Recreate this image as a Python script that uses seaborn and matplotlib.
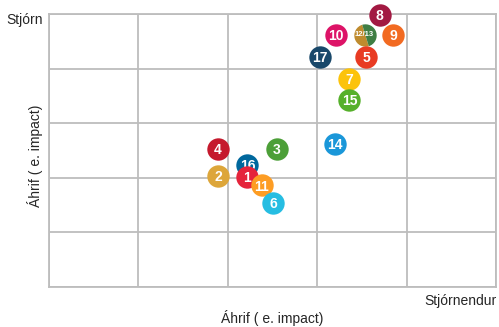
import matplotlib
matplotlib.use("Agg")
import matplotlib.pyplot as plt
from matplotlib.markers import MarkerStyle
from matplotlib.transforms import Affine2D
import seaborn as sns

# Sustainable development goals placed by impact (x) and governance weight (y)
labels = ["8", "10", "9", "17", "5", "7", "15", "14", "4", "3", "16", "2", "1", "11", "6"]
x_vals = [3.70, 3.21, 3.85, 3.03, 3.55, 3.36, 3.36, 3.20, 1.89, 2.55, 2.22, 1.89, 2.22, 2.38, 2.51]
y_vals = [4.99, 4.62, 4.62, 4.22, 4.22, 3.81, 3.42, 2.62, 2.53, 2.53, 2.23, 2.03, 2.02, 1.86, 1.54]

# Goals 12 and 13 share one split marker
shared_label = "12/13"
shared_x = 3.53
shared_y = 4.62

sdg_colors = {
    "1": "#E5243B", "2": "#DDA63A", "3": "#4C9F38", "4": "#C5192D",
    "5": "#E83B23", "6": "#26BDE2", "7": "#FCC30B", "8": "#A21942",
    "9": "#F26A21", "10": "#DD1367", "11": "#FD9D24", "12": "#BF8B2E",
    "13": "#3F7E44", "14": "#1A97D9", "15": "#56B02B", "16": "#00689D",
    "17": "#19486A",
}

sns.set_style("white")
plt.rcParams["font.family"] = ["Liberation Sans", "DejaVu Sans"]

fig = plt.figure(figsize=(4.99, 3.27), dpi=100)
ax = fig.add_axes([0.0982, 0.1223, 0.8958, 0.8349])

ax.set_xlim(0, 5)
ax.set_ylim(0, 5)
ax.set_xticks([0, 1, 2, 3, 4, 5])
ax.set_yticks([0, 1, 2, 3, 4, 5])
ax.tick_params(length=0, labelbottom=False, labelleft=False)
ax.grid(True, color="#bdbdbd", linewidth=1.3)
for sp in ax.spines.values():
    sp.set_color("#bdbdbd")
    sp.set_linewidth(1.3)
ax.set_axisbelow(True)

marker_size = 260

# split marker for 12/13
rot = Affine2D().rotate_deg(17)
ax.scatter([shared_x], [shared_y], s=marker_size, color=sdg_colors["12"],
           marker=MarkerStyle("o", fillstyle="left", transform=rot),
           linewidths=0, zorder=3, clip_on=False)
ax.scatter([shared_x], [shared_y], s=marker_size, color=sdg_colors["13"],
           marker=MarkerStyle("o", fillstyle="right", transform=rot),
           linewidths=0, zorder=3, clip_on=False)
ax.text(shared_x, shared_y, shared_label, color="white", fontsize=5.5,
        fontweight="bold", ha="center", va="center", zorder=4)

for i, (lab, xv, yv) in enumerate(zip(labels, x_vals, y_vals)):
    z = 5 + 2 * i
    sns.scatterplot(x=[xv], y=[yv], color=sdg_colors[lab], s=marker_size,
                    linewidth=0, ax=ax, zorder=z, clip_on=False, legend=False)
    ax.text(xv, yv - 0.02, lab, color="white", fontsize=10, fontweight="bold",
            ha="center", va="center", zorder=z + 1)

ax.set_xlabel("")
ax.set_ylabel("")

fig.text(0.0862, 0.940, "Stjórn", fontsize=10, ha="right", va="center")
fig.text(0.996, 0.078, "Stjórnendur", fontsize=10, ha="right", va="center")
fig.text(0.546, 0.026, "Áhrif ( e. impact)", fontsize=10, ha="center", va="center")
fig.text(0.07, 0.525, "Áhrif ( e. impact)", fontsize=10, ha="center", va="center",
         rotation=90)

fig.savefig("out.png", dpi=100)
